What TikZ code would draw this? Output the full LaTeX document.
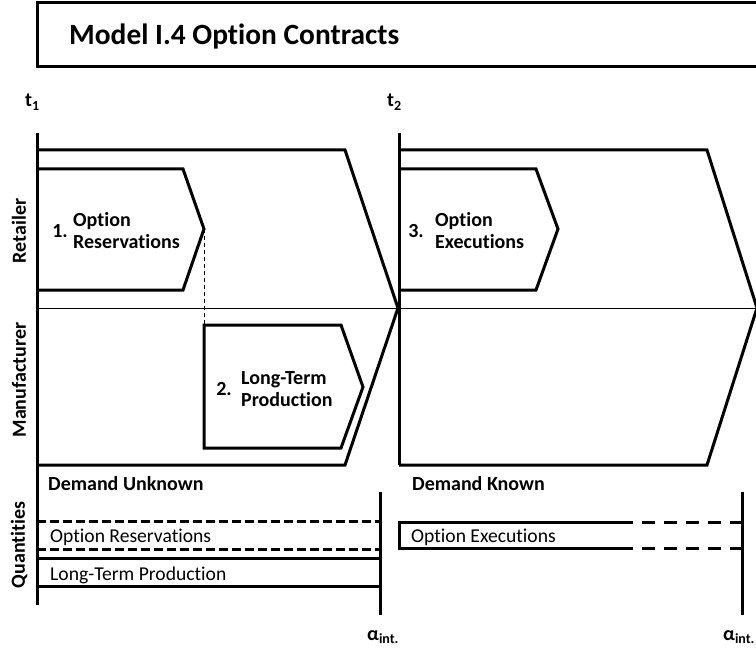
\documentclass[tikz,border=0pt]{standalone}
\usepackage{fontspec}
\setmainfont{Carlito}[Ligatures={NoCommon,NoContextual}]
\usetikzlibrary{positioning}

\tikzset{
  bold line/.style={line width=3pt,line join=miter},
  thin line/.style={line width=1pt},
  lbl/.style={inner sep=0pt,font=\bfseries\fontsize{20}{22}\selectfont},
  phase/.style={inner sep=0pt,align=left,font=\bfseries\fontsize{20}{22}\selectfont},
  qty/.style={inner sep=0pt,anchor=base west,font=\fontsize{19.6}{22}\selectfont},
  side/.style={inner sep=0pt,rotate=90,font=\bfseries\fontsize{20}{22}\selectfont},
  qdash/.style={line width=3pt,dash pattern=on 9pt off 4pt},
  edash/.style={line width=3pt,dash pattern=on 13pt off 9pt}
}

\begin{document}
\begin{tikzpicture}[x=1pt,y=-1pt]
    \clip (0,0) rectangle (756,650);

    % title
    \draw[bold line] (37,3) rectangle (770,67);
    \node[inner sep=0pt,anchor=base west,font=\bfseries\fontsize{29.4}{32}\selectfont] (title) at (69,45) {Model I.4 Option Contracts};

    % time axes
    \node[lbl,anchor=base west] (t1) at (25,107) {t\textsubscript{1}};
    \node[lbl,anchor=base west] (t2) at (387,107) {t\textsubscript{2}};
    \draw[bold line] (37,133) -- (37,605);
    \draw[bold line] (399,133) -- (399,465);

    % side labels
    \node[side] (retailer) at (19,231) {Retailer};
    \node[side] (manufacturer) at (19,380) {Manufacturer};
    \node[side] (quantities) at (19,545) {Quantities};

    % stage frames
    \draw[thin line] (37,308) -- (760,308);
    \draw[bold line] (37,150) -- (345,150) -- (398,308) -- (345,465) -- (37,465);
    \draw[bold line] (399,150) -- (707,150) -- (757,308) -- (707,465) -- (399,465);

    % steps
    \draw[bold line] (37,169) -- (183,169) -- (204,229) -- (183,290) -- (37,290);
    \draw[bold line] (204,325) -- (341,325) -- (363,387) -- (341,448) -- (204,448) -- cycle;
    \draw[bold line] (399,169) -- (536,169) -- (558,229) -- (536,290) -- (399,290);
    \draw[thin line,dash pattern=on 4pt off 3pt] (204,229) -- (204,325);

    \node[phase,anchor=west] (res) at (73,231) {Option\\Reservations};
    \node[lbl,left=5pt of res] (n1) {1.};
    \node[phase,anchor=west] (prod) at (241,389) {Long-Term\\Production};
    \node[lbl,left=9pt of prod] (n2) {2.};
    \node[phase,anchor=west] (exec) at (435,231) {Option\\Executions};
    \node[lbl,left=11pt of exec] (n3) {3.};

    \node[lbl,anchor=base west] (unknown) at (48,490) {Demand Unknown};
    \node[lbl,anchor=base west] (known) at (412,490) {Demand Known};

    % quantities
    \draw[bold line] (380,492) -- (380,615);
    \draw[bold line] (742,492) -- (742,615);
    \draw[qdash] (37,521) -- (380,521);
    \draw[qdash] (37,549) -- (380,549);
    \draw[bold line] (37,558) -- (380,558);
    \draw[bold line] (37,586) -- (380,586);
    \draw[bold line] (620,522) -- (399,522) -- (399,548) -- (620,548);
    \draw[edash] (620,522) -- (742,522);
    \draw[edash] (620,548) -- (742,548);

    \node[qty] (qres) at (50,542) {Option Reservations};
    \node[qty] (qprod) at (50,580) {Long-Term Production};
    \node[qty] (qexec) at (411,542) {Option Executions};

    \node[lbl,anchor=base west] (a1) at (367,640) {α\textsubscript{int.}};
    \node[lbl,anchor=base west] (a2) at (723,640) {α\textsubscript{int.}};
\end{tikzpicture}
\end{document}
